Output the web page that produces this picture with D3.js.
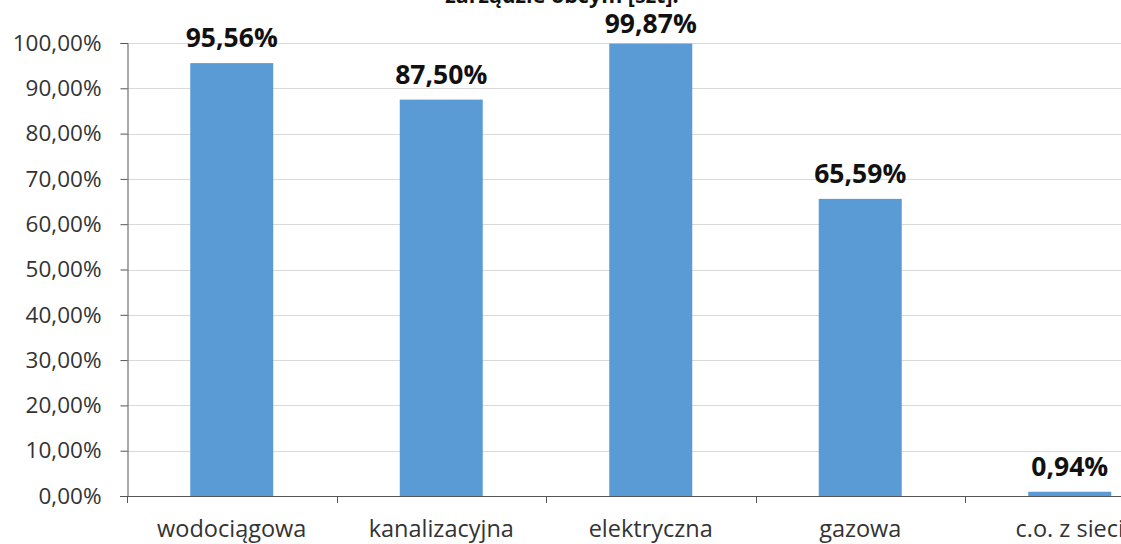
<!DOCTYPE html>
<html><head><meta charset="utf-8">
<script src="https://cdn.jsdelivr.net/npm/d3@7"></script>
<style>body{margin:0;background:#fff}svg{display:block}</style>
</head><body>
<script>
const categories = ["wodociągowa","kanalizacyjna","elektryczna","gazowa","c.o. z sieci"];
const values = [95.56, 87.50, 99.87, 65.59, 0.94];
const yTicks = [0,10,20,30,40,50,60,70,80,90,100];
const title = "zarządzie obcym [szt].";

const W = 1121, H = 544;
const svg = d3.select("body").append("svg").attr("width", W).attr("height", H);
const xb = d3.scaleBand().domain(categories).range([127, 1174.5]);
const y = d3.scaleLinear().domain([0,100]).range([496, 43]);
const fmt = v => v.toFixed(2).replace(".", ",") + "%";

svg.append("text").attr("x", 562).attr("y", 3).attr("text-anchor","middle")
  .attr("font-family","Open Sans").attr("font-weight","bold").attr("font-size",21.5).attr("fill","#111").text(title);

svg.append("g").selectAll("line").data(yTicks.slice(1)).join("line")
  .attr("x1",127).attr("x2",W).attr("y1",d=>Math.round(y(d))+0.5).attr("y2",d=>Math.round(y(d))+0.5)
  .attr("stroke","#d9d9d9").attr("stroke-width",1);

const yAxis = svg.append("g").attr("transform","translate(127.5,0)")
  .call(d3.axisLeft(y).tickValues(yTicks).tickFormat(fmt).tickSize(7).tickPadding(19));
yAxis.select(".domain").attr("stroke","#555");
yAxis.selectAll(".tick line").attr("stroke","#555");
yAxis.selectAll("text").attr("font-family","Open Sans").attr("font-size",22.5).attr("fill","#333");

svg.append("g").selectAll("rect").data(values).join("rect")
  .attr("x",(d,i)=>xb(categories[i]) + xb.bandwidth()/2 - 41.5)
  .attr("width",83)
  .attr("y",d=>y(d)).attr("height",d=>y(0)-y(d)).attr("fill","#5b9bd5");

svg.append("g").selectAll("text").data(values).join("text")
  .attr("x",(d,i)=>xb(categories[i]) + xb.bandwidth()/2)
  .attr("y",d=>Math.max(33, y(d)-16)).attr("text-anchor","middle")
  .attr("font-family","Open Sans").attr("font-weight","bold").attr("font-size",26.5).attr("fill","#111")
  .text(d=>fmt(d));

const xAxis = svg.append("g").attr("transform","translate(0,496.5)")
  .call(d3.axisBottom(xb).tickSize(0));
xAxis.select(".domain").remove();
xAxis.selectAll("text").attr("y",40).attr("dy",null)
  .attr("font-family","Open Sans").attr("font-size",23.5).attr("fill","#333");
svg.append("line").attr("x1",120).attr("x2",W).attr("y1",496.5).attr("y2",496.5).attr("stroke","#555");
svg.append("g").selectAll("line").data(categories).join("line")
  .attr("x1",d=>Math.round(xb(d))+0.5).attr("x2",d=>Math.round(xb(d))+0.5)
  .attr("y1",496).attr("y2",503).attr("stroke","#555");
</script>
</body></html>
